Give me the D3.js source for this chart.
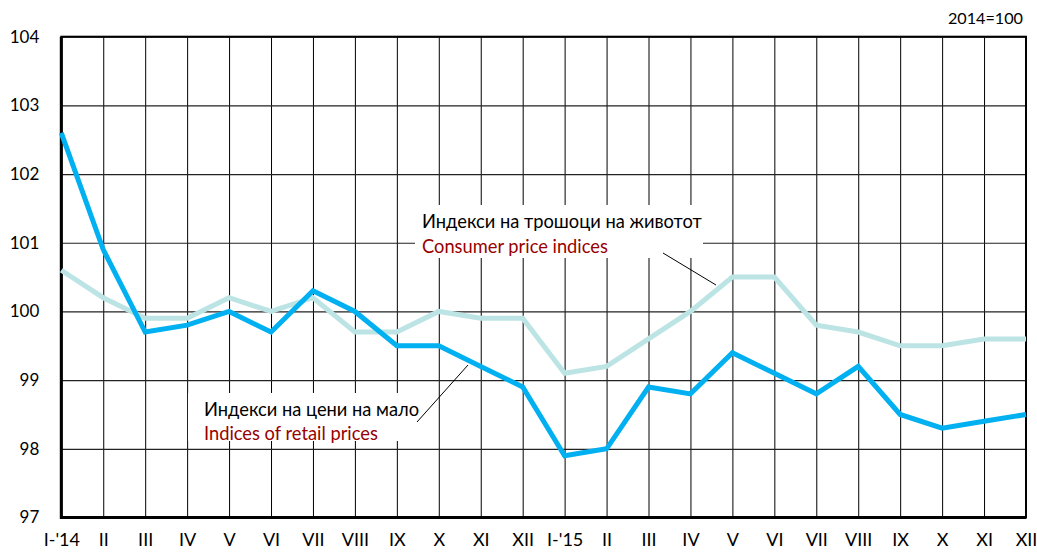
<!DOCTYPE html>
<html>
<head>
<meta charset="utf-8">
<script src="https://cdn.jsdelivr.net/npm/d3@7"></script>
<style>
  body { margin: 0; background: #fff; }
  text { font-family: Lato, "Open Sans", sans-serif; }
</style>
</head>
<body>
<div id="wrapper"></div>
<script>
// months along the x axis
const months = ["I-'14", "II", "III", "IV", "V", "VI", "VII", "VIII", "IX", "X", "XI", "XII",
                "I-'15", "II ", "III ", "IV ", "V ", "VI ", "VII ", "VIII ", "IX ", "X ", "XI ", "XII "]

// Indices of retail prices
const retail = [102.6, 100.9, 99.7, 99.8, 100.0, 99.7, 100.3, 100.0, 99.5, 99.5, 99.2, 98.9,
                97.9, 98.0, 98.9, 98.8, 99.4, 99.1, 98.8, 99.2, 98.5, 98.3, 98.4, 98.5]

// Consumer price indices
const cpi = [100.6, 100.2, 99.9, 99.9, 100.2, 100.0, 100.2, 99.7, 99.7, 100.0, 99.9, 99.9,
             99.1, 99.2, 99.6, 100.0, 100.5, 100.5, 99.8, 99.7, 99.5, 99.5, 99.6, 99.6]

const yTicks = [97, 98, 99, 100, 101, 102, 103, 104]

function drawChart() {
  let dimensions = {
    width: 1037,
    height: 555,
    margin: { top: 36.7, right: 11, bottom: 37.5, left: 61.3 }
  }
  dimensions.boundedWidth = dimensions.width - dimensions.margin.left - dimensions.margin.right
  dimensions.boundedHeight = dimensions.height - dimensions.margin.top - dimensions.margin.bottom

  const svg = d3.select("#wrapper").append("svg")
    .attr("width", dimensions.width)
    .attr("height", dimensions.height)

  const bounds = svg.append("g")
    .attr("transform", `translate(${dimensions.margin.left}, ${dimensions.margin.top})`)

  const xScale = d3.scalePoint()
    .domain(months)
    .range([0, dimensions.boundedWidth])

  const yScale = d3.scaleLinear()
    .domain([97, 104])
    .range([dimensions.boundedHeight, 0])

  // vertical grid + month labels
  const xAxis = bounds.append("g")
    .attr("transform", `translate(0, ${dimensions.boundedHeight})`)
    .call(d3.axisBottom(xScale).tickSize(-dimensions.boundedHeight).tickPadding(16).tickFormat(d => d.trim()))
  xAxis.select(".domain").remove()
  xAxis.selectAll("line").attr("stroke", "#000").attr("stroke-width", 1)
  xAxis.selectAll("text").attr("font-size", 18).attr("fill", "#000")

  // horizontal grid + value labels
  const yAxis = bounds.append("g")
    .call(d3.axisLeft(yScale).tickValues(yTicks).tickFormat(d3.format("d")).tickSize(-dimensions.boundedWidth).tickPadding(22))
  yAxis.select(".domain").remove()
  yAxis.selectAll("line").attr("stroke", "#222").attr("stroke-width", 1.2)
  yAxis.selectAll("text").attr("font-size", 17).attr("fill", "#000")

  // frame
  bounds.append("rect")
    .attr("width", dimensions.boundedWidth)
    .attr("height", dimensions.boundedHeight)
    .attr("fill", "none")
    .attr("stroke", "#000")
    .attr("stroke-width", 2)
  bounds.append("path")
    .attr("d", `M0,0V${dimensions.boundedHeight}H${dimensions.boundedWidth}`)
    .attr("fill", "none")
    .attr("stroke", "#000")
    .attr("stroke-width", 3)

  // white boxes behind the annotations
  bounds.append("rect")
    .attr("x", 415 - dimensions.margin.left).attr("y", 205 - dimensions.margin.top)
    .attr("width", 288).attr("height", 53).attr("fill", "#fff")
  bounds.append("rect")
    .attr("x", 188 - dimensions.margin.left).attr("y", 393 - dimensions.margin.top)
    .attr("width", 242).attr("height", 48).attr("fill", "#fff")

  const line = d3.line()
    .x((d, i) => xScale(months[i]))
    .y(d => yScale(d))

  bounds.append("path")
    .datum(cpi)
    .attr("d", line)
    .attr("fill", "none")
    .attr("stroke", "#BCE4E4")
    .attr("stroke-width", 5)

  bounds.append("path")
    .datum(retail)
    .attr("d", line)
    .attr("fill", "none")
    .attr("stroke", "#00B0F0")
    .attr("stroke-width", 5)

  // leader lines
  svg.append("line")
    .attr("x1", 663).attr("y1", 253).attr("x2", 716).attr("y2", 285)
    .attr("stroke", "#000").attr("stroke-width", 1)
  svg.append("line")
    .attr("x1", 417).attr("y1", 422).attr("x2", 468).attr("y2", 365)
    .attr("stroke", "#000").attr("stroke-width", 1)

  // annotation texts
  svg.append("text").attr("x", 422).attr("y", 228).attr("font-size", 18.3)
    .text("Индекси на трошоци на животот")
  svg.append("text").attr("x", 422).attr("y", 253).attr("font-size", 18.3).attr("fill", "#990000")
    .text("Consumer price indices")
  svg.append("text").attr("x", 204).attr("y", 416).attr("font-size", 18.3)
    .text("Индекси на цени на мало")
  svg.append("text").attr("x", 204).attr("y", 440).attr("font-size", 18.3).attr("fill", "#990000")
    .text("Indices of retail prices")

  svg.append("text")
    .attr("x", 1023).attr("y", 24)
    .attr("text-anchor", "end")
    .attr("font-size", 16.2)
    .text("2014=100")
}
drawChart()
</script>
</body>
</html>
